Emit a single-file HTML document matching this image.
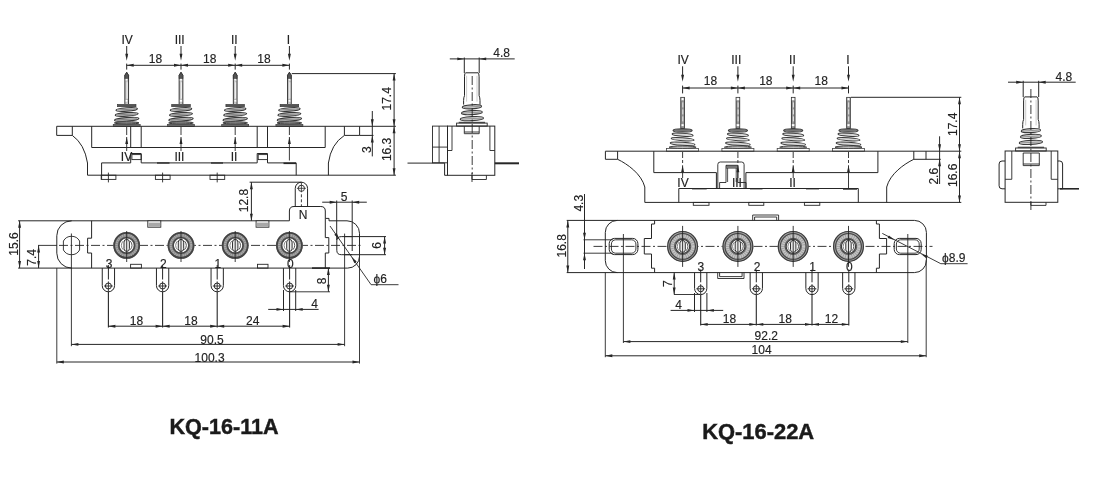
<!DOCTYPE html>
<html><head><meta charset="utf-8"><title>KQ-16</title>
<style>
html,body{margin:0;padding:0;background:#fff;}
body{width:1105px;height:491px;overflow:hidden;}
svg{display:block;font-family:"Liberation Sans",sans-serif;will-change:transform;transform:translateZ(0);}
</style></head>
<body>
<svg width="1105" height="491" viewBox="0 0 1105 491">
<rect x="0" y="0" width="1105" height="491" fill="#ffffff"/>
<text x="127.2" y="43.8" font-size="12" text-anchor="middle" fill="#222" stroke="#222" stroke-width="0.15">IV</text>
<line x1="126.7" y1="46" x2="126.7" y2="57" stroke="#262626" stroke-width="1"/>
<polygon points="126.7,60.8 125.25,53.8 128.15,53.8" fill="#262626"/>
<line x1="126.7" y1="63.6" x2="126.7" y2="69.6" stroke="#262626" stroke-width="1"/>
<path d="M124.85,104 V75.3 L126.7,72.3 L128.55,75.3 V104" fill="#cccccc" stroke="#262626" stroke-width="0.9" />
<path d="M124.85,78.7 V75.3 L126.7,72.3 L128.55,75.3 V78.7 Z" fill="#555" stroke="#262626" stroke-width="0.6" />
<rect x="125.55" y="78.9" width="2.3" height="2" fill="#fff" stroke="#888" stroke-width="0.3"/>
<rect x="125.55" y="99.8" width="2.3" height="2.2" fill="#fff" stroke="#888" stroke-width="0.3"/>
<line x1="127.1" y1="82.3" x2="127.1" y2="98.5" stroke="#f4f4f4" stroke-width="1"/>
<rect x="117.4" y="104.4" width="18.6" height="2.3" fill="#555" stroke="#333" stroke-width="0.6"/>
<ellipse cx="126.7" cy="109.47" rx="10.73" ry="1.72" fill="#d0d0d0" stroke="#383838" stroke-width="1.15" transform="rotate(-4 126.7 109.47)"/>
<line x1="117.97" y1="109.97" x2="135.43" y2="108.97" stroke="#666" stroke-width="0.7"/>
<ellipse cx="126.7" cy="114.4" rx="11.46" ry="1.72" fill="#d0d0d0" stroke="#383838" stroke-width="1.15" transform="rotate(-4 126.7 114.4)"/>
<line x1="117.23" y1="114.9" x2="136.16" y2="113.9" stroke="#666" stroke-width="0.7"/>
<ellipse cx="126.7" cy="119.33" rx="12.21" ry="1.72" fill="#d0d0d0" stroke="#383838" stroke-width="1.15" transform="rotate(-4 126.7 119.33)"/>
<line x1="116.5" y1="119.83" x2="136.91" y2="118.83" stroke="#666" stroke-width="0.7"/>
<ellipse cx="126.7" cy="122.9" rx="12.3" ry="1.1" fill="#999" stroke="#383838" stroke-width="1"/>
<rect x="113.2" y="124.3" width="27" height="2" fill="#777" stroke="#333" stroke-width="0.6"/>
<line x1="126.7" y1="127" x2="126.7" y2="135" stroke="#262626" stroke-width="0.9"/>
<polygon points="126.7,137 128.15,144 125.25,144" fill="#262626"/>
<line x1="126.7" y1="137" x2="126.7" y2="151" stroke="#262626" stroke-width="0.9"/>
<text x="179.7" y="43.8" font-size="12" text-anchor="middle" fill="#222" stroke="#222" stroke-width="0.15">III</text>
<line x1="181" y1="46" x2="181" y2="57" stroke="#262626" stroke-width="1"/>
<polygon points="181,60.8 179.55,53.8 182.45,53.8" fill="#262626"/>
<line x1="181" y1="63.6" x2="181" y2="69.6" stroke="#262626" stroke-width="1"/>
<path d="M179.15,104 V75.3 L181,72.3 L182.85,75.3 V104" fill="#cccccc" stroke="#262626" stroke-width="0.9" />
<path d="M179.15,78.7 V75.3 L181,72.3 L182.85,75.3 V78.7 Z" fill="#555" stroke="#262626" stroke-width="0.6" />
<rect x="179.85" y="78.9" width="2.3" height="2" fill="#fff" stroke="#888" stroke-width="0.3"/>
<rect x="179.85" y="99.8" width="2.3" height="2.2" fill="#fff" stroke="#888" stroke-width="0.3"/>
<line x1="181.4" y1="82.3" x2="181.4" y2="98.5" stroke="#f4f4f4" stroke-width="1"/>
<rect x="171.7" y="104.4" width="18.6" height="2.3" fill="#555" stroke="#333" stroke-width="0.6"/>
<ellipse cx="181" cy="109.47" rx="10.73" ry="1.72" fill="#d0d0d0" stroke="#383838" stroke-width="1.15" transform="rotate(-4 181 109.47)"/>
<line x1="172.28" y1="109.97" x2="189.72" y2="108.97" stroke="#666" stroke-width="0.7"/>
<ellipse cx="181" cy="114.4" rx="11.46" ry="1.72" fill="#d0d0d0" stroke="#383838" stroke-width="1.15" transform="rotate(-4 181 114.4)"/>
<line x1="171.53" y1="114.9" x2="190.47" y2="113.9" stroke="#666" stroke-width="0.7"/>
<ellipse cx="181" cy="119.33" rx="12.21" ry="1.72" fill="#d0d0d0" stroke="#383838" stroke-width="1.15" transform="rotate(-4 181 119.33)"/>
<line x1="170.79" y1="119.83" x2="191.21" y2="118.83" stroke="#666" stroke-width="0.7"/>
<ellipse cx="181" cy="122.9" rx="12.3" ry="1.1" fill="#999" stroke="#383838" stroke-width="1"/>
<rect x="167.5" y="124.3" width="27" height="2" fill="#777" stroke="#333" stroke-width="0.6"/>
<line x1="181" y1="127" x2="181" y2="135" stroke="#262626" stroke-width="0.9"/>
<polygon points="181,137 182.45,144 179.55,144" fill="#262626"/>
<line x1="181" y1="137" x2="181" y2="151" stroke="#262626" stroke-width="0.9"/>
<text x="234.3" y="43.8" font-size="12" text-anchor="middle" fill="#222" stroke="#222" stroke-width="0.15">II</text>
<line x1="235.2" y1="46" x2="235.2" y2="57" stroke="#262626" stroke-width="1"/>
<polygon points="235.2,60.8 233.75,53.8 236.65,53.8" fill="#262626"/>
<line x1="235.2" y1="63.6" x2="235.2" y2="69.6" stroke="#262626" stroke-width="1"/>
<path d="M233.35,104 V75.3 L235.2,72.3 L237.05,75.3 V104" fill="#cccccc" stroke="#262626" stroke-width="0.9" />
<path d="M233.35,78.7 V75.3 L235.2,72.3 L237.05,75.3 V78.7 Z" fill="#555" stroke="#262626" stroke-width="0.6" />
<rect x="234.05" y="78.9" width="2.3" height="2" fill="#fff" stroke="#888" stroke-width="0.3"/>
<rect x="234.05" y="99.8" width="2.3" height="2.2" fill="#fff" stroke="#888" stroke-width="0.3"/>
<line x1="235.6" y1="82.3" x2="235.6" y2="98.5" stroke="#f4f4f4" stroke-width="1"/>
<rect x="225.9" y="104.4" width="18.6" height="2.3" fill="#555" stroke="#333" stroke-width="0.6"/>
<ellipse cx="235.2" cy="109.47" rx="10.73" ry="1.72" fill="#d0d0d0" stroke="#383838" stroke-width="1.15" transform="rotate(-4 235.2 109.47)"/>
<line x1="226.47" y1="109.97" x2="243.92" y2="108.97" stroke="#666" stroke-width="0.7"/>
<ellipse cx="235.2" cy="114.4" rx="11.46" ry="1.72" fill="#d0d0d0" stroke="#383838" stroke-width="1.15" transform="rotate(-4 235.2 114.4)"/>
<line x1="225.73" y1="114.9" x2="244.66" y2="113.9" stroke="#666" stroke-width="0.7"/>
<ellipse cx="235.2" cy="119.33" rx="12.21" ry="1.72" fill="#d0d0d0" stroke="#383838" stroke-width="1.15" transform="rotate(-4 235.2 119.33)"/>
<line x1="224.99" y1="119.83" x2="245.41" y2="118.83" stroke="#666" stroke-width="0.7"/>
<ellipse cx="235.2" cy="122.9" rx="12.3" ry="1.1" fill="#999" stroke="#383838" stroke-width="1"/>
<rect x="221.7" y="124.3" width="27" height="2" fill="#777" stroke="#333" stroke-width="0.6"/>
<line x1="235.2" y1="127" x2="235.2" y2="135" stroke="#262626" stroke-width="0.9"/>
<polygon points="235.2,137 236.65,144 233.75,144" fill="#262626"/>
<line x1="235.2" y1="137" x2="235.2" y2="151" stroke="#262626" stroke-width="0.9"/>
<text x="288.5" y="43.8" font-size="12" text-anchor="middle" fill="#222" stroke="#222" stroke-width="0.15">I</text>
<line x1="289.4" y1="46" x2="289.4" y2="57" stroke="#262626" stroke-width="1"/>
<polygon points="289.4,60.8 287.95,53.8 290.85,53.8" fill="#262626"/>
<line x1="289.4" y1="63.6" x2="289.4" y2="69.6" stroke="#262626" stroke-width="1"/>
<path d="M287.55,104 V75.3 L289.4,72.3 L291.25,75.3 V104" fill="#cccccc" stroke="#262626" stroke-width="0.9" />
<path d="M287.55,78.7 V75.3 L289.4,72.3 L291.25,75.3 V78.7 Z" fill="#555" stroke="#262626" stroke-width="0.6" />
<rect x="288.25" y="78.9" width="2.3" height="2" fill="#fff" stroke="#888" stroke-width="0.3"/>
<rect x="288.25" y="99.8" width="2.3" height="2.2" fill="#fff" stroke="#888" stroke-width="0.3"/>
<line x1="289.8" y1="82.3" x2="289.8" y2="98.5" stroke="#f4f4f4" stroke-width="1"/>
<rect x="280.1" y="104.4" width="18.6" height="2.3" fill="#555" stroke="#333" stroke-width="0.6"/>
<ellipse cx="289.4" cy="109.47" rx="10.73" ry="1.72" fill="#d0d0d0" stroke="#383838" stroke-width="1.15" transform="rotate(-4 289.4 109.47)"/>
<line x1="280.67" y1="109.97" x2="298.12" y2="108.97" stroke="#666" stroke-width="0.7"/>
<ellipse cx="289.4" cy="114.4" rx="11.46" ry="1.72" fill="#d0d0d0" stroke="#383838" stroke-width="1.15" transform="rotate(-4 289.4 114.4)"/>
<line x1="279.94" y1="114.9" x2="298.86" y2="113.9" stroke="#666" stroke-width="0.7"/>
<ellipse cx="289.4" cy="119.33" rx="12.21" ry="1.72" fill="#d0d0d0" stroke="#383838" stroke-width="1.15" transform="rotate(-4 289.4 119.33)"/>
<line x1="279.19" y1="119.83" x2="299.6" y2="118.83" stroke="#666" stroke-width="0.7"/>
<ellipse cx="289.4" cy="122.9" rx="12.3" ry="1.1" fill="#999" stroke="#383838" stroke-width="1"/>
<rect x="275.9" y="124.3" width="27" height="2" fill="#777" stroke="#333" stroke-width="0.6"/>
<line x1="289.4" y1="127" x2="289.4" y2="135" stroke="#262626" stroke-width="0.9"/>
<polygon points="289.4,137 290.85,144 287.95,144" fill="#262626"/>
<line x1="289.4" y1="137" x2="289.4" y2="160.5" stroke="#262626" stroke-width="0.9"/>
<line x1="126.7" y1="65.3" x2="181" y2="65.3" stroke="#262626" stroke-width="1"/>
<polygon points="126.7,65.3 133.7,63.85 133.7,66.75" fill="#262626"/>
<polygon points="181,65.3 174,66.75 174,63.85" fill="#262626"/>
<text x="155.45" y="63.2" font-size="12" text-anchor="middle" fill="#222" stroke="#222" stroke-width="0.15">18</text>
<line x1="181" y1="65.3" x2="235.2" y2="65.3" stroke="#262626" stroke-width="1"/>
<polygon points="181,65.3 188,63.85 188,66.75" fill="#262626"/>
<polygon points="235.2,65.3 228.2,66.75 228.2,63.85" fill="#262626"/>
<text x="209.7" y="63.2" font-size="12" text-anchor="middle" fill="#222" stroke="#222" stroke-width="0.15">18</text>
<line x1="235.2" y1="65.3" x2="289.4" y2="65.3" stroke="#262626" stroke-width="1"/>
<polygon points="235.2,65.3 242.2,63.85 242.2,66.75" fill="#262626"/>
<polygon points="289.4,65.3 282.4,66.75 282.4,63.85" fill="#262626"/>
<text x="263.9" y="63.2" font-size="12" text-anchor="middle" fill="#222" stroke="#222" stroke-width="0.15">18</text>
<text x="126.5" y="160.8" font-size="12" text-anchor="middle" fill="#222" stroke="#222" stroke-width="0.15">IV</text>
<text x="179.4" y="160.8" font-size="12" text-anchor="middle" fill="#222" stroke="#222" stroke-width="0.15">III</text>
<text x="234" y="160.8" font-size="12" text-anchor="middle" fill="#222" stroke="#222" stroke-width="0.15">II</text>
<line x1="56.7" y1="126.3" x2="395.9" y2="126.3" stroke="#262626" stroke-width="1"/>
<path d="M56.7,126.3 V135.4 H72.3 M72.3,126.3 V135.4 Q84.5,144 87.5,163 V175.2 H395.9" fill="none" stroke="#262626" stroke-width="1" />
<path d="M359.6,126.3 V135.4 H344.4 M344.4,126.3 V135.4 Q331,144 328.4,163 V175.2" fill="none" stroke="#262626" stroke-width="1" />
<line x1="359.6" y1="135.4" x2="373.5" y2="135.4" stroke="#262626" stroke-width="1"/>
<path d="M91.7,126.3 V147.5 H325.2 V126.3" fill="none" stroke="#262626" stroke-width="1" />
<line x1="130.7" y1="126.3" x2="130.7" y2="147.5" stroke="#262626" stroke-width="1"/>
<line x1="141.2" y1="126.3" x2="141.2" y2="147.5" stroke="#262626" stroke-width="1"/>
<line x1="257.2" y1="126.3" x2="257.2" y2="147.5" stroke="#262626" stroke-width="1"/>
<line x1="267.5" y1="126.3" x2="267.5" y2="147.5" stroke="#262626" stroke-width="1"/>
<path d="M101.6,175.2 V162.9 H130.7 V153.5 H141.2 V162.9 H257.2 V153.5 H267.5 V162.9 H296.2 V175.2" fill="none" stroke="#262626" stroke-width="1" />
<rect x="131.9" y="154.6" width="9.3" height="5" fill="none" stroke="#262626" stroke-width="0.9"/>
<rect x="258.2" y="154.6" width="9.3" height="5" fill="none" stroke="#262626" stroke-width="0.9"/>
<line x1="283.5" y1="163.3" x2="296" y2="163.3" stroke="#262626" stroke-width="1.6"/>
<line x1="157" y1="163" x2="169.5" y2="163" stroke="#262626" stroke-width="1.3"/>
<line x1="211" y1="163" x2="223" y2="163" stroke="#262626" stroke-width="1.3"/>
<rect x="101.2" y="175.2" width="14.7" height="4.2" fill="none" stroke="#262626" stroke-width="0.9"/>
<line x1="108.4" y1="172.6" x2="108.4" y2="182.4" stroke="#262626" stroke-width="0.9"/>
<rect x="155.4" y="175.2" width="14.7" height="4.2" fill="none" stroke="#262626" stroke-width="0.9"/>
<line x1="162.6" y1="172.6" x2="162.6" y2="182.4" stroke="#262626" stroke-width="0.9"/>
<rect x="210" y="175.2" width="14.7" height="4.2" fill="none" stroke="#262626" stroke-width="0.9"/>
<line x1="217.2" y1="172.6" x2="217.2" y2="182.4" stroke="#262626" stroke-width="0.9"/>
<line x1="101.6" y1="175.2" x2="101.6" y2="179.4" stroke="#262626" stroke-width="0.9"/>
<line x1="291.8" y1="73.6" x2="395.9" y2="73.6" stroke="#262626" stroke-width="1"/>
<line x1="394.1" y1="73.6" x2="394.1" y2="126.3" stroke="#262626" stroke-width="1"/>
<polygon points="394.1,73.6 395.55,80.6 392.65,80.6" fill="#262626"/>
<polygon points="394.1,126.3 392.65,119.3 395.55,119.3" fill="#262626"/>
<line x1="394.1" y1="126.3" x2="394.1" y2="175.2" stroke="#262626" stroke-width="1"/>
<polygon points="394.1,126.3 395.55,133.3 392.65,133.3" fill="#262626"/>
<polygon points="394.1,175.2 392.65,168.2 395.55,168.2" fill="#262626"/>
<text x="391.4" y="98.8" font-size="12" text-anchor="middle" transform="rotate(-90 391.4 98.8)" fill="#222" stroke="#222" stroke-width="0.15">17.4</text>
<text x="391.4" y="149.4" font-size="12" text-anchor="middle" transform="rotate(-90 391.4 149.4)" fill="#222" stroke="#222" stroke-width="0.15">16.3</text>
<line x1="372.3" y1="111" x2="372.3" y2="156.4" stroke="#262626" stroke-width="1"/>
<polygon points="372.3,126.3 370.85,119.3 373.75,119.3" fill="#262626"/>
<polygon points="372.3,135.4 373.75,142.4 370.85,142.4" fill="#262626"/>
<text x="370.9" y="149.6" font-size="12" text-anchor="middle" transform="rotate(-90 370.9 149.6)" fill="#222" stroke="#222" stroke-width="0.15">3</text>
<line x1="18.1" y1="220.8" x2="289.4" y2="220.8" stroke="#262626" stroke-width="1"/>
<path d="M289.4,220.8 V211 Q289.4,206.5 294,206.5 H320.8 Q325.3,206.5 325.3,211 V218.4 H329 V220.8 H347 A12.5,12.5 0 0 1 359.5,233.3 V256.3 A11.8,11.8 0 0 1 347.7,268.1 H18.1" fill="none" stroke="#262626" stroke-width="1" />
<line x1="312" y1="268.1" x2="330" y2="268.1" stroke="#262626" stroke-width="1.6"/>
<path d="M71.7,220.8 A14.9,14.9 0 0 0 56.8,235.7 V253.2 A14.9,14.9 0 0 0 71.7,268.1" fill="none" stroke="#262626" stroke-width="1" />
<path d="M91.6,220.8 V238.2 H87.6 V253 H91.6 V268.1" fill="none" stroke="#262626" stroke-width="1" />
<path d="M325.3,218.4 V237.6 H328.8 V253 H325.3 V268.1" fill="none" stroke="#262626" stroke-width="1" />
<path d="M63.4,241 A9.3,9.3 0 0 1 79.6,241 V250 A9.3,9.3 0 0 1 63.4,250 Z" fill="none" stroke="#262626" stroke-width="0.9" />
<line x1="38" y1="245.4" x2="57" y2="245.4" stroke="#262626" stroke-width="0.9"/>
<line x1="59" y1="245.4" x2="362.6" y2="245.4" stroke="#262626" stroke-width="0.9" stroke-dasharray="9 2.5 2 2.5"/>
<line x1="71.4" y1="233.5" x2="71.4" y2="346.2" stroke="#262626" stroke-width="0.9"/>
<circle cx="126.7" cy="245.4" r="10.25" fill="#fff" stroke="#8a8a8a" stroke-width="6.3"/>
<circle cx="126.7" cy="245.4" r="10.45" fill="none" stroke="#a8a8a8" stroke-width="2.52" stroke-dasharray="1.2 1.0"/>
<circle cx="126.7" cy="245.4" r="12.5" fill="none" stroke="#444" stroke-width="1.8"/>
<circle cx="126.7" cy="245.4" r="7.9" fill="none" stroke="#484848" stroke-width="1.6"/>
<path d="M124,242.1 A2.7,2.7 0 0 1 129.4,242.1 V248.7 A2.7,2.7 0 0 1 124,248.7 Z" fill="#e8e8e8" stroke="#333" stroke-width="1" />
<path d="M130.1,241 A6,6 0 0 1 130.1,249.8" fill="none" stroke="#444" stroke-width="0.9" />
<path d="M123.3,241 A6,6 0 0 0 123.3,249.8" fill="none" stroke="#666" stroke-width="0.8" />
<line x1="126.7" y1="231" x2="126.7" y2="262" stroke="#262626" stroke-width="0.9"/>
<circle cx="181" cy="245.4" r="10.25" fill="#fff" stroke="#8a8a8a" stroke-width="6.3"/>
<circle cx="181" cy="245.4" r="10.45" fill="none" stroke="#a8a8a8" stroke-width="2.52" stroke-dasharray="1.2 1.0"/>
<circle cx="181" cy="245.4" r="12.5" fill="none" stroke="#444" stroke-width="1.8"/>
<circle cx="181" cy="245.4" r="7.9" fill="none" stroke="#484848" stroke-width="1.6"/>
<path d="M178.3,242.1 A2.7,2.7 0 0 1 183.7,242.1 V248.7 A2.7,2.7 0 0 1 178.3,248.7 Z" fill="#e8e8e8" stroke="#333" stroke-width="1" />
<path d="M184.4,241 A6,6 0 0 1 184.4,249.8" fill="none" stroke="#444" stroke-width="0.9" />
<path d="M177.6,241 A6,6 0 0 0 177.6,249.8" fill="none" stroke="#666" stroke-width="0.8" />
<line x1="181" y1="231" x2="181" y2="262" stroke="#262626" stroke-width="0.9"/>
<circle cx="235.2" cy="245.4" r="10.25" fill="#fff" stroke="#8a8a8a" stroke-width="6.3"/>
<circle cx="235.2" cy="245.4" r="10.45" fill="none" stroke="#a8a8a8" stroke-width="2.52" stroke-dasharray="1.2 1.0"/>
<circle cx="235.2" cy="245.4" r="12.5" fill="none" stroke="#444" stroke-width="1.8"/>
<circle cx="235.2" cy="245.4" r="7.9" fill="none" stroke="#484848" stroke-width="1.6"/>
<path d="M232.5,242.1 A2.7,2.7 0 0 1 237.9,242.1 V248.7 A2.7,2.7 0 0 1 232.5,248.7 Z" fill="#e8e8e8" stroke="#333" stroke-width="1" />
<path d="M238.6,241 A6,6 0 0 1 238.6,249.8" fill="none" stroke="#444" stroke-width="0.9" />
<path d="M231.8,241 A6,6 0 0 0 231.8,249.8" fill="none" stroke="#666" stroke-width="0.8" />
<line x1="235.2" y1="231" x2="235.2" y2="262" stroke="#262626" stroke-width="0.9"/>
<circle cx="289.4" cy="245.4" r="10.25" fill="#fff" stroke="#8a8a8a" stroke-width="6.3"/>
<circle cx="289.4" cy="245.4" r="10.45" fill="none" stroke="#a8a8a8" stroke-width="2.52" stroke-dasharray="1.2 1.0"/>
<circle cx="289.4" cy="245.4" r="12.5" fill="none" stroke="#444" stroke-width="1.8"/>
<circle cx="289.4" cy="245.4" r="7.9" fill="none" stroke="#484848" stroke-width="1.6"/>
<path d="M286.7,242.1 A2.7,2.7 0 0 1 292.1,242.1 V248.7 A2.7,2.7 0 0 1 286.7,248.7 Z" fill="#e8e8e8" stroke="#333" stroke-width="1" />
<path d="M292.8,241 A6,6 0 0 1 292.8,249.8" fill="none" stroke="#444" stroke-width="0.9" />
<path d="M286,241 A6,6 0 0 0 286,249.8" fill="none" stroke="#666" stroke-width="0.8" />
<line x1="289.4" y1="231" x2="289.4" y2="262" stroke="#262626" stroke-width="0.9"/>
<rect x="147.8" y="220.8" width="13" height="6.4" fill="#fff" stroke="#262626" stroke-width="0.9"/>
<rect x="148.4" y="222.6" width="11.8" height="4.2" fill="#a8a8a8" stroke="none" stroke-width="0"/>
<rect x="256.1" y="220.8" width="12.8" height="6.4" fill="#fff" stroke="#262626" stroke-width="0.9"/>
<rect x="256.7" y="222.6" width="11.6" height="4.2" fill="#a8a8a8" stroke="none" stroke-width="0"/>
<rect x="130.6" y="264.3" width="10.8" height="3.8" fill="none" stroke="#262626" stroke-width="0.9"/>
<rect x="257.5" y="264.3" width="10.5" height="3.8" fill="none" stroke="#262626" stroke-width="0.9"/>
<path d="M102.25,268.1 V285.65 A6.15,6.15 0 0 0 114.55,285.65 V268.1" fill="none" stroke="#262626" stroke-width="1" />
<circle cx="108.4" cy="286" r="3" fill="none" stroke="#262626" stroke-width="1"/>
<line x1="104" y1="286" x2="112.8" y2="286" stroke="#262626" stroke-width="0.9"/>
<line x1="108.4" y1="265.1" x2="108.4" y2="279.5" stroke="#262626" stroke-width="1"/>
<line x1="108.4" y1="281.4" x2="108.4" y2="291.8" stroke="#262626" stroke-width="0.9"/>
<text x="109.1" y="267.7" font-size="12" text-anchor="middle" fill="#222" stroke="#222" stroke-width="0.15">3</text>
<line x1="108.4" y1="292" x2="108.4" y2="327.6" stroke="#262626" stroke-width="1.1"/>
<path d="M156.45,268.1 V285.65 A6.15,6.15 0 0 0 168.75,285.65 V268.1" fill="none" stroke="#262626" stroke-width="1" />
<circle cx="162.6" cy="286" r="3" fill="none" stroke="#262626" stroke-width="1"/>
<line x1="158.2" y1="286" x2="167" y2="286" stroke="#262626" stroke-width="0.9"/>
<line x1="162.6" y1="265.1" x2="162.6" y2="279.5" stroke="#262626" stroke-width="1"/>
<line x1="162.6" y1="281.4" x2="162.6" y2="291.8" stroke="#262626" stroke-width="0.9"/>
<text x="163.3" y="267.7" font-size="12" text-anchor="middle" fill="#222" stroke="#222" stroke-width="0.15">2</text>
<line x1="162.6" y1="292" x2="162.6" y2="327.6" stroke="#262626" stroke-width="1.1"/>
<path d="M211.05,268.1 V285.65 A6.15,6.15 0 0 0 223.35,285.65 V268.1" fill="none" stroke="#262626" stroke-width="1" />
<circle cx="217.2" cy="286" r="3" fill="none" stroke="#262626" stroke-width="1"/>
<line x1="212.8" y1="286" x2="221.6" y2="286" stroke="#262626" stroke-width="0.9"/>
<line x1="217.2" y1="265.1" x2="217.2" y2="279.5" stroke="#262626" stroke-width="1"/>
<line x1="217.2" y1="281.4" x2="217.2" y2="291.8" stroke="#262626" stroke-width="0.9"/>
<text x="217.9" y="267.7" font-size="12" text-anchor="middle" fill="#222" stroke="#222" stroke-width="0.15">1</text>
<line x1="217.2" y1="292" x2="217.2" y2="327.6" stroke="#262626" stroke-width="1.1"/>
<path d="M283.45,268.1 V285.65 A6.15,6.15 0 0 0 295.75,285.65 V268.1" fill="none" stroke="#262626" stroke-width="1" />
<circle cx="289.6" cy="286" r="3" fill="none" stroke="#262626" stroke-width="1"/>
<line x1="285.2" y1="286" x2="294" y2="286" stroke="#262626" stroke-width="0.9"/>
<line x1="289.6" y1="265.1" x2="289.6" y2="279.5" stroke="#262626" stroke-width="1"/>
<line x1="289.6" y1="281.4" x2="289.6" y2="291.8" stroke="#262626" stroke-width="0.9"/>
<text x="290.3" y="267.7" font-size="12" text-anchor="middle" fill="#222" stroke="#222" stroke-width="0.15">0</text>
<line x1="289.6" y1="292" x2="289.6" y2="327.6" stroke="#262626" stroke-width="1.1"/>
<path d="M295.25,206.5 V188.35 A6.15,6.15 0 0 1 307.55,188.35 V206.5" fill="none" stroke="#262626" stroke-width="1" />
<circle cx="301.4" cy="188.3" r="3.1" fill="none" stroke="#262626" stroke-width="0.9"/>
<line x1="296.9" y1="188.3" x2="305.9" y2="188.3" stroke="#262626" stroke-width="0.8"/>
<line x1="301.4" y1="182.2" x2="301.4" y2="192.3" stroke="#262626" stroke-width="0.8"/>
<line x1="301.4" y1="194.3" x2="301.4" y2="206.5" stroke="#262626" stroke-width="0.9" stroke-dasharray="3 2"/>
<text x="303" y="219.1" font-size="12" text-anchor="middle" fill="#222" stroke="#222" stroke-width="0.15">N</text>
<line x1="249.6" y1="182.2" x2="301.4" y2="182.2" stroke="#262626" stroke-width="1"/>
<line x1="251.4" y1="182.2" x2="251.4" y2="220.8" stroke="#262626" stroke-width="1"/>
<polygon points="251.4,182.2 252.85,189.2 249.95,189.2" fill="#262626"/>
<polygon points="251.4,220.8 249.95,213.8 252.85,213.8" fill="#262626"/>
<text x="248.4" y="200.6" font-size="12" text-anchor="middle" transform="rotate(-90 248.4 200.6)" fill="#222" stroke="#222" stroke-width="0.15">12.8</text>
<line x1="322.2" y1="202.2" x2="366.8" y2="202.2" stroke="#262626" stroke-width="1"/>
<polygon points="336.7,202.2 329.7,203.65 329.7,200.75" fill="#262626"/>
<polygon points="352.2,202.2 359.2,200.75 359.2,203.65" fill="#262626"/>
<line x1="336.7" y1="200.5" x2="336.7" y2="240" stroke="#262626" stroke-width="1"/>
<line x1="352.2" y1="200.5" x2="352.2" y2="251" stroke="#262626" stroke-width="1"/>
<text x="344" y="201" font-size="12" text-anchor="middle" fill="#222" stroke="#222" stroke-width="0.15">5</text>
<path d="M336.8,241 Q336.8,236.6 341.3,236.6 H352.2 M336.8,241 V250.3 Q336.8,254.7 341.3,254.7 H352.2" fill="none" stroke="#262626" stroke-width="1" />
<line x1="344.6" y1="233.6" x2="344.6" y2="346.2" stroke="#262626" stroke-width="0.9"/>
<line x1="344" y1="236.6" x2="386" y2="236.6" stroke="#262626" stroke-width="1"/>
<line x1="344" y1="254.7" x2="386" y2="254.7" stroke="#262626" stroke-width="1"/>
<line x1="384.6" y1="236.6" x2="384.6" y2="254.7" stroke="#262626" stroke-width="1"/>
<polygon points="384.6,236.6 386.05,243.6 383.15,243.6" fill="#262626"/>
<polygon points="384.6,254.7 383.15,247.7 386.05,247.7" fill="#262626"/>
<text x="381" y="245.4" font-size="12" text-anchor="middle" transform="rotate(-90 381 245.4)" fill="#222" stroke="#222" stroke-width="0.15">6</text>
<line x1="330" y1="226" x2="371.1" y2="284.7" stroke="#262626" stroke-width="0.9"/>
<line x1="371.1" y1="284.7" x2="398.5" y2="284.7" stroke="#262626" stroke-width="0.9"/>
<polygon points="339.5,239.6 334.3,234.7 336.67,233.03" fill="#262626"/>
<polygon points="351.5,256.7 356.7,261.6 354.33,263.27" fill="#262626"/>
<text x="380.3" y="282.6" font-size="12" text-anchor="middle" fill="#222" stroke="#222" stroke-width="0.15">&#981;6</text>
<line x1="289.6" y1="291.8" x2="330" y2="291.8" stroke="#262626" stroke-width="0.9"/>
<line x1="328.4" y1="268.1" x2="328.4" y2="291.8" stroke="#262626" stroke-width="1"/>
<polygon points="328.4,268.1 329.85,275.1 326.95,275.1" fill="#262626"/>
<polygon points="328.4,291.8 326.95,284.8 329.85,284.8" fill="#262626"/>
<text x="326" y="281" font-size="12" text-anchor="middle" transform="rotate(-90 326 281)" fill="#222" stroke="#222" stroke-width="0.15">8</text>
<line x1="268.2" y1="309.4" x2="318.6" y2="309.4" stroke="#262626" stroke-width="1"/>
<polygon points="283.5,309.4 276.5,310.85 276.5,307.95" fill="#262626"/>
<polygon points="295.7,309.4 302.7,307.95 302.7,310.85" fill="#262626"/>
<line x1="283.5" y1="290" x2="283.5" y2="311" stroke="#262626" stroke-width="1"/>
<line x1="295.7" y1="290" x2="295.7" y2="311" stroke="#262626" stroke-width="1"/>
<text x="314.7" y="308.2" font-size="12" text-anchor="middle" fill="#222" stroke="#222" stroke-width="0.15">4</text>
<line x1="108.4" y1="326.2" x2="162.6" y2="326.2" stroke="#262626" stroke-width="1"/>
<polygon points="108.4,326.2 115.4,324.75 115.4,327.65" fill="#262626"/>
<polygon points="162.6,326.2 155.6,327.65 155.6,324.75" fill="#262626"/>
<text x="136.5" y="325.2" font-size="12" text-anchor="middle" fill="#222" stroke="#222" stroke-width="0.15">18</text>
<line x1="162.6" y1="326.2" x2="217.2" y2="326.2" stroke="#262626" stroke-width="1"/>
<polygon points="162.6,326.2 169.6,324.75 169.6,327.65" fill="#262626"/>
<polygon points="217.2,326.2 210.2,327.65 210.2,324.75" fill="#262626"/>
<text x="190.9" y="325.2" font-size="12" text-anchor="middle" fill="#222" stroke="#222" stroke-width="0.15">18</text>
<line x1="217.2" y1="326.2" x2="289.6" y2="326.2" stroke="#262626" stroke-width="1"/>
<polygon points="217.2,326.2 224.2,324.75 224.2,327.65" fill="#262626"/>
<polygon points="289.6,326.2 282.6,327.65 282.6,324.75" fill="#262626"/>
<text x="252.8" y="325.2" font-size="12" text-anchor="middle" fill="#222" stroke="#222" stroke-width="0.15">24</text>
<line x1="71.4" y1="344.4" x2="344.6" y2="344.4" stroke="#262626" stroke-width="1"/>
<polygon points="71.4,344.4 78.4,342.95 78.4,345.85" fill="#262626"/>
<polygon points="344.6,344.4 337.6,345.85 337.6,342.95" fill="#262626"/>
<text x="212" y="343.9" font-size="12" text-anchor="middle" fill="#222" stroke="#222" stroke-width="0.15">90.5</text>
<line x1="56.8" y1="362" x2="359.5" y2="362" stroke="#262626" stroke-width="1"/>
<polygon points="56.8,362 63.8,360.55 63.8,363.45" fill="#262626"/>
<polygon points="359.5,362 352.5,363.45 352.5,360.55" fill="#262626"/>
<text x="209.6" y="361.6" font-size="12" text-anchor="middle" fill="#222" stroke="#222" stroke-width="0.15">100.3</text>
<line x1="56.8" y1="268.1" x2="56.8" y2="363.6" stroke="#262626" stroke-width="0.9"/>
<line x1="359.5" y1="256" x2="359.5" y2="363.6" stroke="#262626" stroke-width="0.9"/>
<line x1="19.6" y1="220.8" x2="19.6" y2="268.1" stroke="#262626" stroke-width="1"/>
<polygon points="19.6,220.8 21.05,227.8 18.15,227.8" fill="#262626"/>
<polygon points="19.6,268.1 18.15,261.1 21.05,261.1" fill="#262626"/>
<text x="18" y="244" font-size="12" text-anchor="middle" transform="rotate(-90 18 244)" fill="#222" stroke="#222" stroke-width="0.15">15.6</text>
<line x1="38.6" y1="245.4" x2="38.6" y2="268.1" stroke="#262626" stroke-width="1"/>
<polygon points="38.6,245.4 40.05,252.4 37.15,252.4" fill="#262626"/>
<polygon points="38.6,268.1 37.15,261.1 40.05,261.1" fill="#262626"/>
<text x="36" y="257.4" font-size="12" text-anchor="middle" transform="rotate(-90 36 257.4)" fill="#222" stroke="#222" stroke-width="0.15">7.4</text>
<line x1="449.8" y1="58.9" x2="514.7" y2="58.9" stroke="#262626" stroke-width="1"/>
<polygon points="464.3,58.9 457.3,60.35 457.3,57.45" fill="#262626"/>
<polygon points="479.2,58.9 486.2,57.45 486.2,60.35" fill="#262626"/>
<line x1="464.3" y1="57.5" x2="464.3" y2="73" stroke="#262626" stroke-width="1"/>
<line x1="479.2" y1="57.5" x2="479.2" y2="73" stroke="#262626" stroke-width="1"/>
<text x="501.7" y="56.7" font-size="12" text-anchor="middle" fill="#222" stroke="#222" stroke-width="0.15">4.8</text>
<path d="M463.6,104.6 V100.6 Q463.6,97.6 464.5,95.6 V76.8 Q464.5,72.8 465.6,72.8 H478 Q479.1,72.8 479.1,76.8 V95.6 Q480,97.6 480,100.6 V104.6" fill="#fff" stroke="#262626" stroke-width="1" />
<line x1="466.6" y1="75.8" x2="466.6" y2="101.6" stroke="#aaa" stroke-width="0.6"/>
<line x1="477" y1="75.8" x2="477" y2="101.6" stroke="#aaa" stroke-width="0.6"/>
<rect x="456.6" y="123.1" width="30.6" height="3" fill="#fff" stroke="#262626" stroke-width="0.9"/>
<ellipse cx="471.9" cy="106.8" rx="9.6" ry="2" fill="#d8d8d8" stroke="#3a3a3a" stroke-width="1.2" transform="rotate(-3 471.9 106.8)"/>
<line x1="463.8" y1="107.3" x2="480" y2="106.3" stroke="#666" stroke-width="0.6"/>
<ellipse cx="471.9" cy="112.6" rx="10.4" ry="2" fill="#d8d8d8" stroke="#3a3a3a" stroke-width="1.2" transform="rotate(-3 471.9 112.6)"/>
<line x1="463" y1="113.1" x2="480.8" y2="112.1" stroke="#666" stroke-width="0.6"/>
<ellipse cx="471.9" cy="118.6" rx="11.6" ry="2" fill="#d8d8d8" stroke="#3a3a3a" stroke-width="1.2" transform="rotate(-3 471.9 118.6)"/>
<line x1="461.8" y1="119.1" x2="482" y2="118.1" stroke="#666" stroke-width="0.6"/>
<line x1="458.7" y1="122.5" x2="485.1" y2="122.5" stroke="#444" stroke-width="1.4"/>
<rect x="447.5" y="126.1" width="47.3" height="49.2" fill="none" stroke="#262626" stroke-width="1"/>
<rect x="432.5" y="126.1" width="15" height="36.7" fill="none" stroke="#262626" stroke-width="0.9"/>
<line x1="439.1" y1="126.1" x2="439.1" y2="162.8" stroke="#262626" stroke-width="0.9"/>
<line x1="432.5" y1="147.1" x2="447.5" y2="147.1" stroke="#262626" stroke-width="0.9"/>
<path d="M407.5,163.1 H444.6 V175.3 H447.5" fill="none" stroke="#262626" stroke-width="1" />
<path d="M452,126.1 V150.5 H447.5" fill="none" stroke="#262626" stroke-width="0.9" />
<path d="M489.9,126.1 V150.5 H494.8" fill="none" stroke="#262626" stroke-width="0.9" />
<path d="M464.3,126.1 V133.7 H479.2 V126.1 M464.3,132 H479.2" fill="none" stroke="#262626" stroke-width="0.9" />
<path d="M472,175.3 V179.5 H486.4 V175.3" fill="none" stroke="#262626" stroke-width="0.9" />
<line x1="472" y1="173" x2="472" y2="182" stroke="#262626" stroke-width="0.9"/>
<line x1="494.8" y1="163.3" x2="519" y2="163.3" stroke="#262626" stroke-width="2"/>
<line x1="472.2" y1="76" x2="472.2" y2="174" stroke="#262626" stroke-width="0.9" stroke-dasharray="9 2.5 2 2.5"/>
<text x="169.4" y="434.3" font-size="21.9" text-anchor="start" font-weight="bold" textLength="109.2" lengthAdjust="spacingAndGlyphs" fill="#1a1a1a" stroke="#1a1a1a" stroke-width="0.45">KQ-16-11A</text>
<text x="702.2" y="438.7" font-size="21.9" text-anchor="start" font-weight="bold" textLength="112" lengthAdjust="spacingAndGlyphs" fill="#1a1a1a" stroke="#1a1a1a" stroke-width="0.45">KQ-16-22A</text>
<text x="683.1" y="64.2" font-size="12" text-anchor="middle" fill="#222" stroke="#222" stroke-width="0.15">IV</text>
<line x1="682.6" y1="66.3" x2="682.6" y2="77" stroke="#262626" stroke-width="1"/>
<polygon points="682.6,81.7 681.15,74.7 684.05,74.7" fill="#262626"/>
<line x1="682.6" y1="85.6" x2="682.6" y2="93.4" stroke="#262626" stroke-width="1"/>
<rect x="680.8" y="97.4" width="3.6" height="31" fill="#969696" stroke="#333" stroke-width="0.9"/>
<rect x="681.3" y="97.9" width="2.6" height="2.5" fill="#fff" stroke="#888" stroke-width="0.3"/>
<rect x="681.3" y="124" width="2.6" height="2.2" fill="#fff" stroke="#888" stroke-width="0.3"/>
<line x1="682.8" y1="102.4" x2="682.8" y2="122.4" stroke="#f4f4f4" stroke-width="0.9" stroke-dasharray="5 2"/>
<rect x="666.6" y="148.4" width="32" height="2.8" fill="#fff" stroke="#444" stroke-width="0.8"/>
<ellipse cx="682.6" cy="130.4" rx="9.6" ry="1.7" fill="#777" stroke="#383838" stroke-width="1.05"/>
<ellipse cx="682.6" cy="134.8" rx="10.53" ry="1.5" fill="#d8d8d8" stroke="#383838" stroke-width="1.05" transform="rotate(4 682.6 134.8)"/>
<ellipse cx="682.6" cy="139.2" rx="11.47" ry="1.5" fill="#d8d8d8" stroke="#383838" stroke-width="1.05" transform="rotate(4 682.6 139.2)"/>
<ellipse cx="682.6" cy="143.8" rx="12.4" ry="1.5" fill="#d8d8d8" stroke="#383838" stroke-width="1.05" transform="rotate(4 682.6 143.8)"/>
<ellipse cx="682.6" cy="147.2" rx="13.5" ry="1.2" fill="#ccc" stroke="#444" stroke-width="1"/>
<line x1="682.6" y1="152" x2="682.6" y2="163" stroke="#262626" stroke-width="0.9" stroke-dasharray="6 2"/>
<polygon points="682.6,165.3 684.05,172.3 681.15,172.3" fill="#262626"/>
<line x1="682.6" y1="165.3" x2="682.6" y2="178" stroke="#262626" stroke-width="0.9"/>
<text x="736.3" y="64.2" font-size="12" text-anchor="middle" fill="#222" stroke="#222" stroke-width="0.15">III</text>
<line x1="737.9" y1="66.3" x2="737.9" y2="77" stroke="#262626" stroke-width="1"/>
<polygon points="737.9,81.7 736.45,74.7 739.35,74.7" fill="#262626"/>
<line x1="737.9" y1="85.6" x2="737.9" y2="93.4" stroke="#262626" stroke-width="1"/>
<rect x="736.1" y="97.4" width="3.6" height="31" fill="#969696" stroke="#333" stroke-width="0.9"/>
<rect x="736.6" y="97.9" width="2.6" height="2.5" fill="#fff" stroke="#888" stroke-width="0.3"/>
<rect x="736.6" y="124" width="2.6" height="2.2" fill="#fff" stroke="#888" stroke-width="0.3"/>
<line x1="738.1" y1="102.4" x2="738.1" y2="122.4" stroke="#f4f4f4" stroke-width="0.9" stroke-dasharray="5 2"/>
<rect x="721.9" y="148.4" width="32" height="2.8" fill="#fff" stroke="#444" stroke-width="0.8"/>
<ellipse cx="737.9" cy="130.4" rx="9.6" ry="1.7" fill="#777" stroke="#383838" stroke-width="1.05"/>
<ellipse cx="737.9" cy="134.8" rx="10.53" ry="1.5" fill="#d8d8d8" stroke="#383838" stroke-width="1.05" transform="rotate(4 737.9 134.8)"/>
<ellipse cx="737.9" cy="139.2" rx="11.47" ry="1.5" fill="#d8d8d8" stroke="#383838" stroke-width="1.05" transform="rotate(4 737.9 139.2)"/>
<ellipse cx="737.9" cy="143.8" rx="12.4" ry="1.5" fill="#d8d8d8" stroke="#383838" stroke-width="1.05" transform="rotate(4 737.9 143.8)"/>
<ellipse cx="737.9" cy="147.2" rx="13.5" ry="1.2" fill="#ccc" stroke="#444" stroke-width="1"/>
<line x1="737.9" y1="152" x2="737.9" y2="163" stroke="#262626" stroke-width="0.9" stroke-dasharray="6 2"/>
<polygon points="737.9,165.3 739.35,172.3 736.45,172.3" fill="#262626"/>
<line x1="737.9" y1="165.3" x2="737.9" y2="178" stroke="#262626" stroke-width="0.9"/>
<text x="792.4" y="64.2" font-size="12" text-anchor="middle" fill="#222" stroke="#222" stroke-width="0.15">II</text>
<line x1="793.2" y1="66.3" x2="793.2" y2="77" stroke="#262626" stroke-width="1"/>
<polygon points="793.2,81.7 791.75,74.7 794.65,74.7" fill="#262626"/>
<line x1="793.2" y1="85.6" x2="793.2" y2="93.4" stroke="#262626" stroke-width="1"/>
<rect x="791.4" y="97.4" width="3.6" height="31" fill="#969696" stroke="#333" stroke-width="0.9"/>
<rect x="791.9" y="97.9" width="2.6" height="2.5" fill="#fff" stroke="#888" stroke-width="0.3"/>
<rect x="791.9" y="124" width="2.6" height="2.2" fill="#fff" stroke="#888" stroke-width="0.3"/>
<line x1="793.4" y1="102.4" x2="793.4" y2="122.4" stroke="#f4f4f4" stroke-width="0.9" stroke-dasharray="5 2"/>
<rect x="777.2" y="148.4" width="32" height="2.8" fill="#fff" stroke="#444" stroke-width="0.8"/>
<ellipse cx="793.2" cy="130.4" rx="9.6" ry="1.7" fill="#777" stroke="#383838" stroke-width="1.05"/>
<ellipse cx="793.2" cy="134.8" rx="10.53" ry="1.5" fill="#d8d8d8" stroke="#383838" stroke-width="1.05" transform="rotate(4 793.2 134.8)"/>
<ellipse cx="793.2" cy="139.2" rx="11.47" ry="1.5" fill="#d8d8d8" stroke="#383838" stroke-width="1.05" transform="rotate(4 793.2 139.2)"/>
<ellipse cx="793.2" cy="143.8" rx="12.4" ry="1.5" fill="#d8d8d8" stroke="#383838" stroke-width="1.05" transform="rotate(4 793.2 143.8)"/>
<ellipse cx="793.2" cy="147.2" rx="13.5" ry="1.2" fill="#ccc" stroke="#444" stroke-width="1"/>
<line x1="793.2" y1="152" x2="793.2" y2="163" stroke="#262626" stroke-width="0.9" stroke-dasharray="6 2"/>
<polygon points="793.2,165.3 794.65,172.3 791.75,172.3" fill="#262626"/>
<line x1="793.2" y1="165.3" x2="793.2" y2="178" stroke="#262626" stroke-width="0.9"/>
<text x="847.9" y="64.2" font-size="12" text-anchor="middle" fill="#222" stroke="#222" stroke-width="0.15">I</text>
<line x1="848.5" y1="66.3" x2="848.5" y2="77" stroke="#262626" stroke-width="1"/>
<polygon points="848.5,81.7 847.05,74.7 849.95,74.7" fill="#262626"/>
<line x1="848.5" y1="85.6" x2="848.5" y2="93.4" stroke="#262626" stroke-width="1"/>
<rect x="846.7" y="97.4" width="3.6" height="31" fill="#969696" stroke="#333" stroke-width="0.9"/>
<rect x="847.2" y="97.9" width="2.6" height="2.5" fill="#fff" stroke="#888" stroke-width="0.3"/>
<rect x="847.2" y="124" width="2.6" height="2.2" fill="#fff" stroke="#888" stroke-width="0.3"/>
<line x1="848.7" y1="102.4" x2="848.7" y2="122.4" stroke="#f4f4f4" stroke-width="0.9" stroke-dasharray="5 2"/>
<rect x="832.5" y="148.4" width="32" height="2.8" fill="#fff" stroke="#444" stroke-width="0.8"/>
<ellipse cx="848.5" cy="130.4" rx="9.6" ry="1.7" fill="#777" stroke="#383838" stroke-width="1.05"/>
<ellipse cx="848.5" cy="134.8" rx="10.53" ry="1.5" fill="#d8d8d8" stroke="#383838" stroke-width="1.05" transform="rotate(4 848.5 134.8)"/>
<ellipse cx="848.5" cy="139.2" rx="11.47" ry="1.5" fill="#d8d8d8" stroke="#383838" stroke-width="1.05" transform="rotate(4 848.5 139.2)"/>
<ellipse cx="848.5" cy="143.8" rx="12.4" ry="1.5" fill="#d8d8d8" stroke="#383838" stroke-width="1.05" transform="rotate(4 848.5 143.8)"/>
<ellipse cx="848.5" cy="147.2" rx="13.5" ry="1.2" fill="#ccc" stroke="#444" stroke-width="1"/>
<line x1="848.5" y1="152" x2="848.5" y2="163" stroke="#262626" stroke-width="0.9" stroke-dasharray="6 2"/>
<polygon points="848.5,165.3 849.95,172.3 847.05,172.3" fill="#262626"/>
<line x1="848.5" y1="165.3" x2="848.5" y2="188" stroke="#262626" stroke-width="0.9"/>
<line x1="682.6" y1="88" x2="737.9" y2="88" stroke="#262626" stroke-width="1"/>
<polygon points="682.6,88 689.6,86.55 689.6,89.45" fill="#262626"/>
<polygon points="737.9,88 730.9,89.45 730.9,86.55" fill="#262626"/>
<text x="710.55" y="85.2" font-size="12" text-anchor="middle" fill="#222" stroke="#222" stroke-width="0.15">18</text>
<line x1="737.9" y1="88" x2="793.2" y2="88" stroke="#262626" stroke-width="1"/>
<polygon points="737.9,88 744.9,86.55 744.9,89.45" fill="#262626"/>
<polygon points="793.2,88 786.2,89.45 786.2,86.55" fill="#262626"/>
<text x="765.85" y="85.2" font-size="12" text-anchor="middle" fill="#222" stroke="#222" stroke-width="0.15">18</text>
<line x1="793.2" y1="88" x2="848.5" y2="88" stroke="#262626" stroke-width="1"/>
<polygon points="793.2,88 800.2,86.55 800.2,89.45" fill="#262626"/>
<polygon points="848.5,88 841.5,89.45 841.5,86.55" fill="#262626"/>
<text x="821.15" y="85.2" font-size="12" text-anchor="middle" fill="#222" stroke="#222" stroke-width="0.15">18</text>
<text x="683" y="187" font-size="12" text-anchor="middle" fill="#222" stroke="#222" stroke-width="0.15">IV</text>
<text x="736.9" y="187" font-size="12" text-anchor="middle" fill="#222" stroke="#222" stroke-width="0.15">III</text>
<text x="792.6" y="187" font-size="12" text-anchor="middle" fill="#222" stroke="#222" stroke-width="0.15">II</text>
<line x1="605.4" y1="151.2" x2="961.3" y2="151.2" stroke="#262626" stroke-width="1"/>
<path d="M605.4,151.2 V159.3 H617.6 M617.6,151.2 V159.3 C627.5,164 641.5,174 644.8,187 V202.4 H961.3" fill="none" stroke="#262626" stroke-width="1" />
<path d="M926,151.2 V159.3 H913.8 M913.8,151.2 V159.3 C904,164 890,174 886.7,187 V202.4" fill="none" stroke="#262626" stroke-width="1" />
<line x1="926" y1="159.3" x2="940.8" y2="159.3" stroke="#262626" stroke-width="1"/>
<path d="M653.8,151.2 V172.6 H716.4 V188.5 M745.9,188.5 V172.6 H877.9 V151.2" fill="none" stroke="#262626" stroke-width="1" />
<path d="M678.8,202.4 V188.5 H858.3 V202.4" fill="none" stroke="#262626" stroke-width="1" />
<path d="M717.8,188.5 V164.5 Q717.8,162 720.3,162 H741.6 Q744.1,162 744.1,164.5 V188.5" fill="none" stroke="#262626" stroke-width="0.9" />
<path d="M719.6,188.5 V182.5 H726 V165.3 H737.8 V182.5 H746 V188.5" fill="none" stroke="#262626" stroke-width="0.9" />
<path d="M727.6,182 V167 H736.2 V182" fill="none" stroke="#262626" stroke-width="0.8" />
<rect x="726.4" y="165.6" width="11" height="2.6" fill="#777" stroke="#262626" stroke-width="0.4"/>
<rect x="693.3" y="202.4" width="15.7" height="2.9" fill="none" stroke="#262626" stroke-width="0.9"/>
<rect x="748.8" y="202.4" width="15" height="2.9" fill="none" stroke="#262626" stroke-width="0.9"/>
<rect x="804.4" y="202.4" width="15.4" height="2.9" fill="none" stroke="#262626" stroke-width="0.9"/>
<line x1="692" y1="188.7" x2="706.7" y2="188.7" stroke="#262626" stroke-width="1.4"/>
<line x1="750" y1="188.7" x2="762.5" y2="188.7" stroke="#262626" stroke-width="1.4"/>
<line x1="806" y1="188.7" x2="819" y2="188.7" stroke="#262626" stroke-width="1.4"/>
<line x1="843" y1="188.9" x2="857" y2="188.9" stroke="#262626" stroke-width="1.6"/>
<line x1="851" y1="97.3" x2="961.3" y2="97.3" stroke="#262626" stroke-width="1"/>
<line x1="959.5" y1="97.3" x2="959.5" y2="151.2" stroke="#262626" stroke-width="1"/>
<polygon points="959.5,97.3 960.95,104.3 958.05,104.3" fill="#262626"/>
<polygon points="959.5,151.2 958.05,144.2 960.95,144.2" fill="#262626"/>
<line x1="959.5" y1="151.2" x2="959.5" y2="202.4" stroke="#262626" stroke-width="1"/>
<polygon points="959.5,151.2 960.95,158.2 958.05,158.2" fill="#262626"/>
<polygon points="959.5,202.4 958.05,195.4 960.95,195.4" fill="#262626"/>
<text x="956.8" y="124.3" font-size="12" text-anchor="middle" transform="rotate(-90 956.8 124.3)" fill="#222" stroke="#222" stroke-width="0.15">17.4</text>
<text x="956.8" y="175.3" font-size="12" text-anchor="middle" transform="rotate(-90 956.8 175.3)" fill="#222" stroke="#222" stroke-width="0.15">16.6</text>
<line x1="939.6" y1="136.3" x2="939.6" y2="184" stroke="#262626" stroke-width="1"/>
<polygon points="939.6,151.2 938.15,144.2 941.05,144.2" fill="#262626"/>
<polygon points="939.6,159.3 941.05,166.3 938.15,166.3" fill="#262626"/>
<text x="938.4" y="176.2" font-size="12" text-anchor="middle" transform="rotate(-90 938.4 176.2)" fill="#222" stroke="#222" stroke-width="0.15">2.6</text>
<line x1="566.7" y1="220.4" x2="914.4" y2="220.4" stroke="#262626" stroke-width="1"/>
<line x1="566.7" y1="272.6" x2="914.4" y2="272.6" stroke="#262626" stroke-width="1"/>
<path d="M617.3,220.4 A12,12 0 0 0 605.3,232.4 V260.6 A12,12 0 0 0 617.3,272.6" fill="none" stroke="#262626" stroke-width="1" />
<path d="M914.4,220.4 A12,12 0 0 1 926.4,232.4 V260.6 A12,12 0 0 1 914.4,272.6" fill="none" stroke="#262626" stroke-width="1" />
<path d="M654.6,220.4 V224 H651.5 V238.5 H644.3 V254 H651.5 V268.2 H654.6 V272.6" fill="none" stroke="#262626" stroke-width="1" />
<path d="M876.4,220.4 V224 H879.4 V238.5 H886.6 V254 H879.4 V268.2 H876.4 V272.6" fill="none" stroke="#262626" stroke-width="1" />
<rect x="609.2" y="238.4" width="28.7" height="16.2" rx="5.2" ry="5.2" fill="none" stroke="#262626" stroke-width="1"/>
<rect x="611.4" y="239.8" width="24.5" height="13.4" rx="4.2" ry="4.2" fill="none" stroke="#262626" stroke-width="0.9"/>
<rect x="894.2" y="238.4" width="27" height="16.2" rx="5.2" ry="5.2" fill="none" stroke="#262626" stroke-width="1"/>
<rect x="896.4" y="239.8" width="22.8" height="13.4" rx="4.2" ry="4.2" fill="none" stroke="#262626" stroke-width="0.9"/>
<line x1="583.5" y1="239.8" x2="613" y2="239.8" stroke="#262626" stroke-width="0.9"/>
<line x1="583.5" y1="253.2" x2="613" y2="253.2" stroke="#262626" stroke-width="0.9"/>
<line x1="593.5" y1="246.4" x2="932.5" y2="246.4" stroke="#262626" stroke-width="0.9" stroke-dasharray="9 2.5 2 2.5"/>
<line x1="623.4" y1="234" x2="623.4" y2="343" stroke="#262626" stroke-width="0.9"/>
<line x1="907.8" y1="234" x2="907.8" y2="343" stroke="#262626" stroke-width="0.9"/>
<circle cx="682.6" cy="246.4" r="11.05" fill="#fff" stroke="#a2a2a2" stroke-width="8.9"/>
<circle cx="682.6" cy="246.4" r="10.4" fill="none" stroke="#c8c8c8" stroke-width="3.2" stroke-dasharray="1.2 1.0"/>
<circle cx="682.6" cy="246.4" r="14.9" fill="none" stroke="#3a3a3a" stroke-width="1.2"/>
<circle cx="682.6" cy="246.4" r="12.9" fill="none" stroke="#444" stroke-width="1.1"/>
<circle cx="682.6" cy="246.4" r="8.1" fill="none" stroke="#555" stroke-width="1"/>
<circle cx="682.6" cy="246.4" r="7.1" fill="none" stroke="#3a3a3a" stroke-width="1.1"/>
<path d="M679.9,243.1 A2.7,2.7 0 0 1 685.3,243.1 V249.7 A2.7,2.7 0 0 1 679.9,249.7 Z" fill="#e8e8e8" stroke="#333" stroke-width="1" />
<path d="M686,242 A6,6 0 0 1 686,250.8" fill="none" stroke="#444" stroke-width="0.9" />
<path d="M679.2,242 A6,6 0 0 0 679.2,250.8" fill="none" stroke="#666" stroke-width="0.8" />
<line x1="682.6" y1="225.9" x2="682.6" y2="266.9" stroke="#262626" stroke-width="0.9"/>
<circle cx="737.9" cy="246.4" r="11.05" fill="#fff" stroke="#a2a2a2" stroke-width="8.9"/>
<circle cx="737.9" cy="246.4" r="10.4" fill="none" stroke="#c8c8c8" stroke-width="3.2" stroke-dasharray="1.2 1.0"/>
<circle cx="737.9" cy="246.4" r="14.9" fill="none" stroke="#3a3a3a" stroke-width="1.2"/>
<circle cx="737.9" cy="246.4" r="12.9" fill="none" stroke="#444" stroke-width="1.1"/>
<circle cx="737.9" cy="246.4" r="8.1" fill="none" stroke="#555" stroke-width="1"/>
<circle cx="737.9" cy="246.4" r="7.1" fill="none" stroke="#3a3a3a" stroke-width="1.1"/>
<path d="M735.2,243.1 A2.7,2.7 0 0 1 740.6,243.1 V249.7 A2.7,2.7 0 0 1 735.2,249.7 Z" fill="#e8e8e8" stroke="#333" stroke-width="1" />
<path d="M741.3,242 A6,6 0 0 1 741.3,250.8" fill="none" stroke="#444" stroke-width="0.9" />
<path d="M734.5,242 A6,6 0 0 0 734.5,250.8" fill="none" stroke="#666" stroke-width="0.8" />
<line x1="737.9" y1="225.9" x2="737.9" y2="266.9" stroke="#262626" stroke-width="0.9"/>
<circle cx="793.2" cy="246.4" r="11.05" fill="#fff" stroke="#a2a2a2" stroke-width="8.9"/>
<circle cx="793.2" cy="246.4" r="10.4" fill="none" stroke="#c8c8c8" stroke-width="3.2" stroke-dasharray="1.2 1.0"/>
<circle cx="793.2" cy="246.4" r="14.9" fill="none" stroke="#3a3a3a" stroke-width="1.2"/>
<circle cx="793.2" cy="246.4" r="12.9" fill="none" stroke="#444" stroke-width="1.1"/>
<circle cx="793.2" cy="246.4" r="8.1" fill="none" stroke="#555" stroke-width="1"/>
<circle cx="793.2" cy="246.4" r="7.1" fill="none" stroke="#3a3a3a" stroke-width="1.1"/>
<path d="M790.5,243.1 A2.7,2.7 0 0 1 795.9,243.1 V249.7 A2.7,2.7 0 0 1 790.5,249.7 Z" fill="#e8e8e8" stroke="#333" stroke-width="1" />
<path d="M796.6,242 A6,6 0 0 1 796.6,250.8" fill="none" stroke="#444" stroke-width="0.9" />
<path d="M789.8,242 A6,6 0 0 0 789.8,250.8" fill="none" stroke="#666" stroke-width="0.8" />
<line x1="793.2" y1="225.9" x2="793.2" y2="266.9" stroke="#262626" stroke-width="0.9"/>
<circle cx="848.5" cy="246.4" r="11.05" fill="#fff" stroke="#a2a2a2" stroke-width="8.9"/>
<circle cx="848.5" cy="246.4" r="10.4" fill="none" stroke="#c8c8c8" stroke-width="3.2" stroke-dasharray="1.2 1.0"/>
<circle cx="848.5" cy="246.4" r="14.9" fill="none" stroke="#3a3a3a" stroke-width="1.2"/>
<circle cx="848.5" cy="246.4" r="12.9" fill="none" stroke="#444" stroke-width="1.1"/>
<circle cx="848.5" cy="246.4" r="8.1" fill="none" stroke="#555" stroke-width="1"/>
<circle cx="848.5" cy="246.4" r="7.1" fill="none" stroke="#3a3a3a" stroke-width="1.1"/>
<path d="M845.8,243.1 A2.7,2.7 0 0 1 851.2,243.1 V249.7 A2.7,2.7 0 0 1 845.8,249.7 Z" fill="#e8e8e8" stroke="#333" stroke-width="1" />
<path d="M851.9,242 A6,6 0 0 1 851.9,250.8" fill="none" stroke="#444" stroke-width="0.9" />
<path d="M845.1,242 A6,6 0 0 0 845.1,250.8" fill="none" stroke="#666" stroke-width="0.8" />
<line x1="848.5" y1="225.9" x2="848.5" y2="266.9" stroke="#262626" stroke-width="0.9"/>
<path d="M752.7,220.4 V215 H778.6 V220.4 M754.6,220.4 V217 H776.7 V220.4" fill="none" stroke="#262626" stroke-width="0.9" />
<path d="M717.7,272.6 V278.5 H744 V272.6 M719.6,272.6 V276.6 H742.1 V272.6" fill="none" stroke="#262626" stroke-width="0.9" />
<path d="M694.55,272.6 V288.45 A6.15,6.15 0 0 0 706.85,288.45 V272.6" fill="none" stroke="#262626" stroke-width="1" />
<circle cx="700.7" cy="288.8" r="3" fill="none" stroke="#262626" stroke-width="1"/>
<line x1="696.3" y1="288.8" x2="705.1" y2="288.8" stroke="#262626" stroke-width="0.9"/>
<line x1="700.7" y1="269.6" x2="700.7" y2="282.3" stroke="#262626" stroke-width="1"/>
<line x1="700.7" y1="284.2" x2="700.7" y2="294.6" stroke="#262626" stroke-width="0.9"/>
<line x1="700.7" y1="295" x2="700.7" y2="325.4" stroke="#262626" stroke-width="1.1"/>
<path d="M750.15,272.6 V288.45 A6.15,6.15 0 0 0 762.45,288.45 V272.6" fill="none" stroke="#262626" stroke-width="1" />
<circle cx="756.3" cy="288.8" r="3" fill="none" stroke="#262626" stroke-width="1"/>
<line x1="751.9" y1="288.8" x2="760.7" y2="288.8" stroke="#262626" stroke-width="0.9"/>
<line x1="756.3" y1="269.6" x2="756.3" y2="282.3" stroke="#262626" stroke-width="1"/>
<line x1="756.3" y1="284.2" x2="756.3" y2="294.6" stroke="#262626" stroke-width="0.9"/>
<line x1="756.3" y1="295" x2="756.3" y2="325.4" stroke="#262626" stroke-width="1.1"/>
<path d="M805.85,272.6 V288.45 A6.15,6.15 0 0 0 818.15,288.45 V272.6" fill="none" stroke="#262626" stroke-width="1" />
<circle cx="812" cy="288.8" r="3" fill="none" stroke="#262626" stroke-width="1"/>
<line x1="807.6" y1="288.8" x2="816.4" y2="288.8" stroke="#262626" stroke-width="0.9"/>
<line x1="812" y1="269.6" x2="812" y2="282.3" stroke="#262626" stroke-width="1"/>
<line x1="812" y1="284.2" x2="812" y2="294.6" stroke="#262626" stroke-width="0.9"/>
<line x1="812" y1="295" x2="812" y2="325.4" stroke="#262626" stroke-width="1.1"/>
<path d="M842.65,272.6 V288.45 A6.15,6.15 0 0 0 854.95,288.45 V272.6" fill="none" stroke="#262626" stroke-width="1" />
<circle cx="848.8" cy="288.8" r="3" fill="none" stroke="#262626" stroke-width="1"/>
<line x1="844.4" y1="288.8" x2="853.2" y2="288.8" stroke="#262626" stroke-width="0.9"/>
<line x1="848.8" y1="269.6" x2="848.8" y2="282.3" stroke="#262626" stroke-width="1"/>
<line x1="848.8" y1="284.2" x2="848.8" y2="294.6" stroke="#262626" stroke-width="0.9"/>
<line x1="848.8" y1="295" x2="848.8" y2="325.4" stroke="#262626" stroke-width="1.1"/>
<text x="700.9" y="271.2" font-size="12" text-anchor="middle" fill="#222" stroke="#222" stroke-width="0.15">3</text>
<text x="757" y="271.2" font-size="12" text-anchor="middle" fill="#222" stroke="#222" stroke-width="0.15">2</text>
<text x="812.6" y="271.2" font-size="12" text-anchor="middle" fill="#222" stroke="#222" stroke-width="0.15">1</text>
<text x="849.3" y="271.2" font-size="12" text-anchor="middle" fill="#222" stroke="#222" stroke-width="0.15">0</text>
<line x1="567.8" y1="220.4" x2="567.8" y2="272.6" stroke="#262626" stroke-width="1"/>
<polygon points="567.8,220.4 569.25,227.4 566.35,227.4" fill="#262626"/>
<polygon points="567.8,272.6 566.35,265.6 569.25,265.6" fill="#262626"/>
<text x="566" y="245.8" font-size="12" text-anchor="middle" transform="rotate(-90 566 245.8)" fill="#222" stroke="#222" stroke-width="0.15">16.8</text>
<line x1="584.5" y1="194" x2="584.5" y2="269" stroke="#262626" stroke-width="1"/>
<polygon points="584.5,239.8 583.05,232.8 585.95,232.8" fill="#262626"/>
<polygon points="584.5,253.2 585.95,260.2 583.05,260.2" fill="#262626"/>
<text x="583.2" y="203.2" font-size="12" text-anchor="middle" transform="rotate(-90 583.2 203.2)" fill="#222" stroke="#222" stroke-width="0.15">4.3</text>
<line x1="674" y1="294.5" x2="700" y2="294.5" stroke="#262626" stroke-width="0.9"/>
<line x1="674.2" y1="272.6" x2="674.2" y2="294.5" stroke="#262626" stroke-width="1"/>
<polygon points="674.2,272.6 675.65,279.6 672.75,279.6" fill="#262626"/>
<polygon points="674.2,294.5 672.75,287.5 675.65,287.5" fill="#262626"/>
<text x="672.4" y="283.6" font-size="12" text-anchor="middle" transform="rotate(-90 672.4 283.6)" fill="#222" stroke="#222" stroke-width="0.15">7</text>
<line x1="670.6" y1="310.4" x2="723.2" y2="310.4" stroke="#262626" stroke-width="1"/>
<polygon points="694.5,310.4 687.5,311.85 687.5,308.95" fill="#262626"/>
<polygon points="706.9,310.4 713.9,308.95 713.9,311.85" fill="#262626"/>
<line x1="694.5" y1="293" x2="694.5" y2="312" stroke="#262626" stroke-width="1"/>
<line x1="706.9" y1="293" x2="706.9" y2="312" stroke="#262626" stroke-width="1"/>
<text x="678.7" y="308.8" font-size="12" text-anchor="middle" fill="#222" stroke="#222" stroke-width="0.15">4</text>
<line x1="700.7" y1="324.4" x2="756.3" y2="324.4" stroke="#262626" stroke-width="1"/>
<polygon points="700.7,324.4 707.7,322.95 707.7,325.85" fill="#262626"/>
<polygon points="756.3,324.4 749.3,325.85 749.3,322.95" fill="#262626"/>
<text x="729.5" y="323" font-size="12" text-anchor="middle" fill="#222" stroke="#222" stroke-width="0.15">18</text>
<line x1="756.3" y1="324.4" x2="812" y2="324.4" stroke="#262626" stroke-width="1"/>
<polygon points="756.3,324.4 763.3,322.95 763.3,325.85" fill="#262626"/>
<polygon points="812,324.4 805,325.85 805,322.95" fill="#262626"/>
<text x="785.15" y="323" font-size="12" text-anchor="middle" fill="#222" stroke="#222" stroke-width="0.15">18</text>
<line x1="812" y1="324.4" x2="848.8" y2="324.4" stroke="#262626" stroke-width="1"/>
<polygon points="812,324.4 819,322.95 819,325.85" fill="#262626"/>
<polygon points="848.8,324.4 841.8,325.85 841.8,322.95" fill="#262626"/>
<text x="831.4" y="323" font-size="12" text-anchor="middle" fill="#222" stroke="#222" stroke-width="0.15">12</text>
<line x1="623.4" y1="341.6" x2="907.8" y2="341.6" stroke="#262626" stroke-width="1"/>
<polygon points="623.4,341.6 630.4,340.15 630.4,343.05" fill="#262626"/>
<polygon points="907.8,341.6 900.8,343.05 900.8,340.15" fill="#262626"/>
<text x="766.3" y="340.3" font-size="12" text-anchor="middle" fill="#222" stroke="#222" stroke-width="0.15">92.2</text>
<line x1="605.3" y1="355.8" x2="926.2" y2="355.8" stroke="#262626" stroke-width="1"/>
<polygon points="605.3,355.8 612.3,354.35 612.3,357.25" fill="#262626"/>
<polygon points="926.2,355.8 919.2,357.25 919.2,354.35" fill="#262626"/>
<text x="761.6" y="353.6" font-size="12" text-anchor="middle" fill="#222" stroke="#222" stroke-width="0.15">104</text>
<line x1="605.3" y1="272.6" x2="605.3" y2="357.2" stroke="#262626" stroke-width="0.9"/>
<line x1="926.2" y1="260" x2="926.2" y2="357.2" stroke="#262626" stroke-width="0.9"/>
<line x1="882.3" y1="233.4" x2="940.8" y2="263.7" stroke="#262626" stroke-width="0.9"/>
<line x1="940.8" y1="263.7" x2="967.6" y2="263.7" stroke="#262626" stroke-width="0.9"/>
<polygon points="894.5,239.9 887.62,237.97 888.95,235.39" fill="#262626"/>
<polygon points="921,253.9 927.88,255.83 926.55,258.41" fill="#262626"/>
<text x="953.7" y="261.5" font-size="12" text-anchor="middle" fill="#222" stroke="#222" stroke-width="0.15">&#981;8.9</text>
<line x1="1008" y1="82.2" x2="1075.7" y2="82.2" stroke="#262626" stroke-width="1"/>
<polygon points="1023.2,82.2 1016.2,83.65 1016.2,80.75" fill="#262626"/>
<polygon points="1038.7,82.2 1045.7,80.75 1045.7,83.65" fill="#262626"/>
<line x1="1023.2" y1="80.8" x2="1023.2" y2="97" stroke="#262626" stroke-width="1"/>
<line x1="1038.7" y1="80.8" x2="1038.7" y2="97" stroke="#262626" stroke-width="1"/>
<text x="1063.8" y="81" font-size="12" text-anchor="middle" fill="#222" stroke="#222" stroke-width="0.15">4.8</text>
<path d="M1022.7,128.4 V124.4 Q1022.7,121.4 1023.6,119.4 V100.9 Q1023.6,96.9 1024.7,96.9 H1037.1 Q1038.2,96.9 1038.2,100.9 V119.4 Q1039.1,121.4 1039.1,124.4 V128.4" fill="#fff" stroke="#262626" stroke-width="1" />
<line x1="1025.7" y1="99.9" x2="1025.7" y2="125.4" stroke="#aaa" stroke-width="0.6"/>
<line x1="1036.1" y1="99.9" x2="1036.1" y2="125.4" stroke="#aaa" stroke-width="0.6"/>
<rect x="1015.6" y="148" width="30.6" height="3" fill="#fff" stroke="#262626" stroke-width="0.9"/>
<ellipse cx="1030.9" cy="130.6" rx="9.6" ry="2" fill="#d8d8d8" stroke="#3a3a3a" stroke-width="1.2" transform="rotate(-3 1030.9 130.6)"/>
<line x1="1022.8" y1="131.1" x2="1039" y2="130.1" stroke="#666" stroke-width="0.6"/>
<ellipse cx="1030.9" cy="136.4" rx="10.4" ry="2" fill="#d8d8d8" stroke="#3a3a3a" stroke-width="1.2" transform="rotate(-3 1030.9 136.4)"/>
<line x1="1022" y1="136.9" x2="1039.8" y2="135.9" stroke="#666" stroke-width="0.6"/>
<ellipse cx="1030.9" cy="142.4" rx="11.6" ry="2" fill="#d8d8d8" stroke="#3a3a3a" stroke-width="1.2" transform="rotate(-3 1030.9 142.4)"/>
<line x1="1020.8" y1="142.9" x2="1041" y2="141.9" stroke="#666" stroke-width="0.6"/>
<line x1="1017.7" y1="147.4" x2="1044.1" y2="147.4" stroke="#444" stroke-width="1.4"/>
<rect x="1005.1" y="151" width="52.7" height="51.3" fill="none" stroke="#262626" stroke-width="1"/>
<path d="M1011.8,151 V179.3 H1005.1" fill="none" stroke="#262626" stroke-width="0.9" />
<path d="M1051.2,151 V179.3 H1057.8" fill="none" stroke="#262626" stroke-width="0.9" />
<path d="M1023.2,153 V165.6 H1039.3 V153 Z M1023.2,164 H1039.3" fill="none" stroke="#262626" stroke-width="0.9" />
<path d="M1005.1,188.8 H1002 Q999.1,188.8 999.1,185.8 V164 Q999.1,161 1002,161 H1005.1" fill="none" stroke="#262626" stroke-width="1" />
<path d="M1057.8,188.8 H1062.6 V164 Q1062.6,161 1059.8,161 H1057.8" fill="none" stroke="#262626" stroke-width="1" />
<line x1="1060" y1="188.8" x2="1079" y2="188.8" stroke="#262626" stroke-width="1.6"/>
<path d="M1030.9,202.3 V205.4 H1046 V202.3" fill="none" stroke="#262626" stroke-width="0.9" />
<line x1="1030.9" y1="89" x2="1030.9" y2="211" stroke="#262626" stroke-width="0.9" stroke-dasharray="9 2.5 2 2.5"/>
</svg>
</body></html>
